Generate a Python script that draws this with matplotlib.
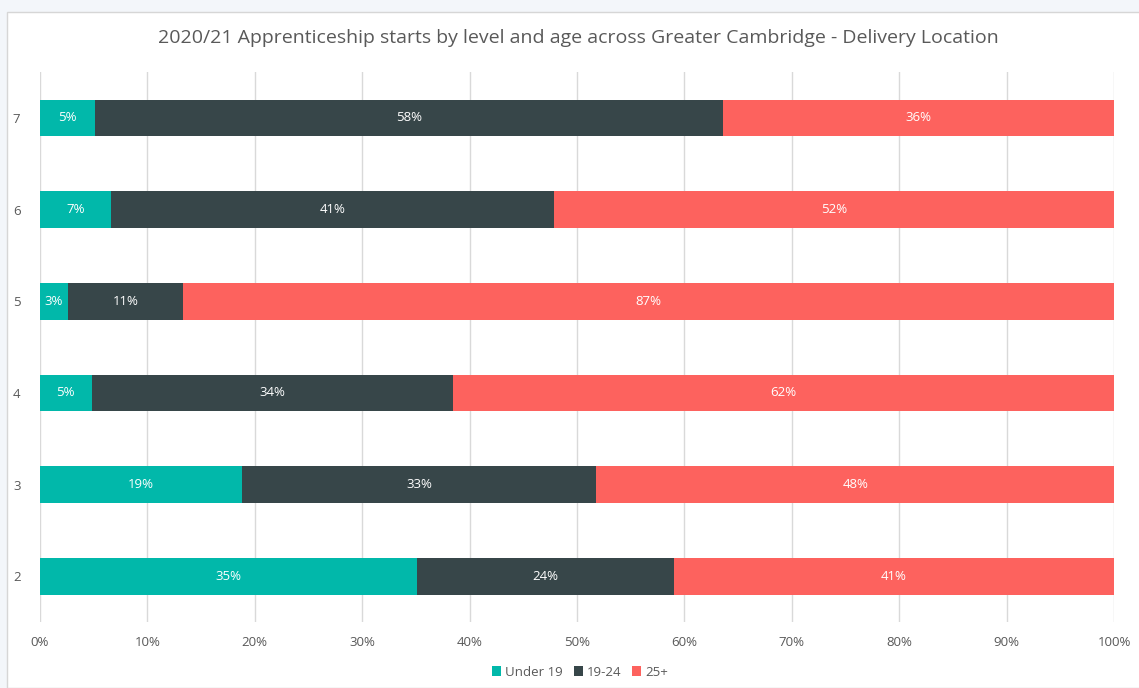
import matplotlib.pyplot as plt
from matplotlib.patches import Rectangle
import numpy as np

plt.rcParams['font.family'] = ['Open Sans', 'DejaVu Sans']

levels = ['2', '3', '4', '5', '6', '7']
under_19 = [35.1, 18.8, 4.8, 2.6, 6.6, 5.1]
age_19_24 = [23.9, 33.0, 33.7, 10.7, 41.3, 58.5]
age_25_plus = [41.0, 48.2, 61.5, 86.7, 52.1, 36.4]
series_names = ['Under 19', '19-24', '25+']
colors = ['#01B8AA', '#374649', '#FD625E']

fig = plt.figure(figsize=(11.39, 6.88), dpi=100)
fig.patch.set_facecolor('#f3f6fa')
# white chart area with thin border
fig.patches.append(Rectangle((7 / 1139, 0), 1.0, 1 - 12 / 688, transform=fig.transFigure,
                             facecolor='white', edgecolor='#d6d6d6', linewidth=1, zorder=-5))

ax = fig.add_axes([40 / 1139, 1 - 622 / 688, (1114 - 40) / 1139, (622 - 72) / 688])
ax.set_facecolor('none')
ax.set_zorder(2)

y = np.arange(len(levels))
left = np.zeros(len(levels))
for vals, name, c in zip([under_19, age_19_24, age_25_plus], series_names, colors):
    vals = np.array(vals)
    ax.barh(y, vals, left=left, height=0.4, color=c, label=name, zorder=3)
    for yi, l, v in zip(y, left, vals):
        ax.text(l + v / 2, yi, f'{v:.0f}%', ha='center', va='center',
                color='white', fontsize=9.5, zorder=4)
    left += vals

ax.set_xlim(0, 100)
ax.set_ylim(-0.5, len(levels) - 0.5)
ax.set_yticks(y)
ax.set_yticklabels(levels)
ax.set_xticks(np.arange(0, 101, 10))
ax.set_xticklabels([f'{t}%' for t in range(0, 101, 10)])
ax.tick_params(axis='both', length=0, colors='#595959', labelsize=9.5)
ax.tick_params(axis='x', pad=10)
ax.tick_params(axis='y', pad=14)
ax.grid(axis='x', color='#d9d9d9', linewidth=1, zorder=0)
for s in ax.spines.values():
    s.set_visible(False)

fig.text(578 / 1139, 1 - 38 / 688, '2020/21 Apprenticeship starts by level and age across Greater Cambridge - Delivery Location',
         ha='center', va='center', fontsize=14, color='#595959', zorder=3)

fig.legend(loc='center', bbox_to_anchor=(580 / 1139, 1 - 672 / 688), ncol=3, frameon=False,
           fontsize=9.5, handlelength=0.7, handleheight=0.7, handletextpad=0.3, columnspacing=0.8,
           labelcolor='#595959')

fig.savefig('out.png', dpi=100, facecolor=fig.get_facecolor())
